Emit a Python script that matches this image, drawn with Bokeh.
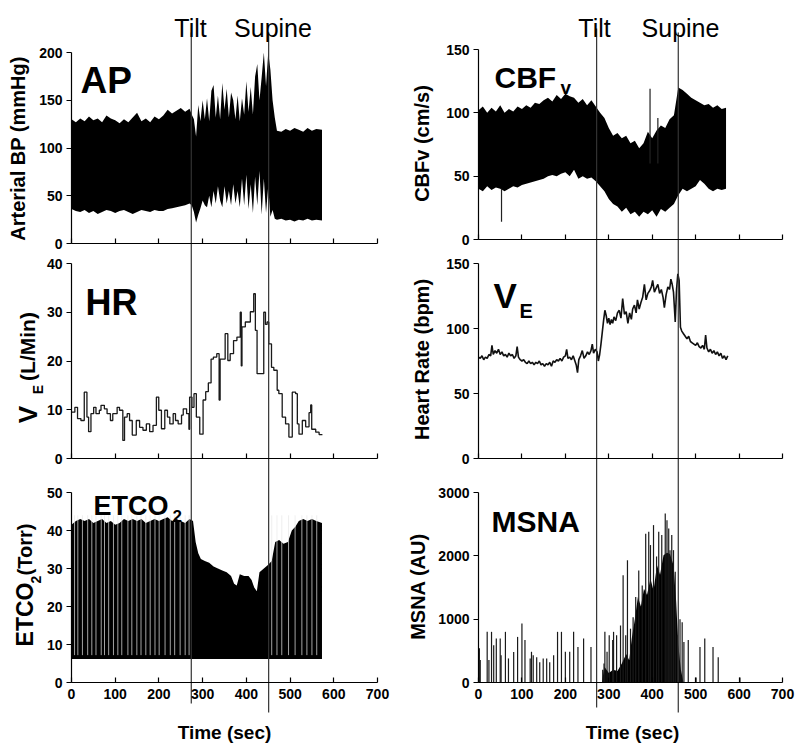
import numpy as np
from bokeh.plotting import figure
from bokeh.models import Range1d, LinearAxis, FixedTicker, Label
from bokeh.embed import file_html
from bokeh.resources import INLINE

# ---------------- data ----------------
X_TICKS = [0, 100, 200, 300, 400, 500, 600, 700]

# event times (s) as placed in each column
TILT_L, SUPINE_L = 274, 451
TILT_R, SUPINE_R = 272, 460

# Arterial blood pressure envelope (mmHg)
AP_T = [0, 10, 20, 30, 40, 50, 60, 70, 80, 90, 100, 110, 120, 130, 140, 150, 160, 170, 180, 190,
        200, 210, 220, 230, 240, 250, 260, 270,
        275, 280, 285, 290, 295, 300, 305, 310, 315, 320, 325, 330, 335, 340, 345, 350, 355, 360,
        365, 370, 375, 380, 385, 390, 395, 400, 405, 410, 415, 420, 425, 430, 435, 440, 445, 450,
        455, 460, 465, 470,
        480, 490, 500, 510, 520, 530, 540, 550, 560, 573]
AP_SYS = [130, 127, 131, 128, 133, 129, 131, 127, 134, 131, 129, 126, 130, 127, 132, 137, 128, 131, 127, 133,
          130, 134, 140, 136, 139, 142, 138, 141,
          135, 130, 112, 145, 128, 150, 130, 152, 128, 160, 166, 132, 155, 130, 168, 140, 162, 132,
          158, 150, 130, 155, 128, 152, 135, 170, 138, 164, 135, 175, 188, 150, 174, 200, 165, 200,
          182, 150, 132, 118,
          117, 120, 118, 121, 119, 117, 121, 118, 120, 119]
AP_DIA = [36, 34, 33, 35, 32, 34, 31, 33, 35, 34, 32, 34, 35, 33, 31, 33, 35, 34, 33, 35,
          34, 34, 36, 37, 38, 39, 40, 42,
          40, 33, 22, 30, 37, 45, 40, 38, 50, 38, 55, 42, 60, 45, 38, 60, 42, 55,
          40, 62, 42, 55, 38, 68, 40, 72, 36, 62, 32, 70, 40, 76, 30, 68, 32, 60,
          28, 35, 26, 25,
          26, 24, 25, 23, 25, 24, 26, 24, 25, 24]

# Cerebral blood flow velocity envelope (cm/s)
CBF_T = [0, 10, 20, 30, 40, 50, 60, 70, 80, 90,
         100, 110, 120, 130, 140, 150, 160, 170, 180, 190,
         200, 210, 220, 230, 240, 250, 260, 270, 280, 290,
         300, 310, 320, 330, 340, 350, 360, 370, 380, 390,
         400, 410, 420, 430, 440, 450, 460, 470, 480, 490,
         500, 510, 520, 530, 540, 550, 560, 570]
CBF_HI = [102, 105, 100, 104, 101, 106, 100, 103, 101, 105,
          103, 106, 104, 108, 107, 110, 112, 109, 114, 111,
          115, 113, 112, 108, 111, 106, 110, 105, 100, 96,
          88, 82, 84, 80, 82, 76, 78, 72, 76, 85,
          80, 86, 90, 88, 95, 98, 120, 118, 115, 112,
          110, 108, 106, 107, 104, 106, 103, 104]
CBF_LO = [40, 38, 42, 39, 41, 40, 38, 40, 42, 41,
          43, 44, 45, 46, 47, 48, 50, 51, 50, 52,
          53, 50, 55, 48, 50, 48, 49, 46, 42, 38,
          32, 28, 26, 22, 25, 20, 22, 18, 22, 20,
          23, 18, 24, 22, 25, 28, 35, 40, 38, 40,
          42, 47, 44, 40, 38, 40, 39, 40]
CBF_SPK_T = [53, 395, 413]
CBF_SPK_LO = [14, 60, 60]
CBF_SPK_HI = [40, 119, 96]

# Minute ventilation steps (L/min)
VE_T = [0, 7.7, 13.8, 21.5, 29.2, 35.3, 39.1, 44.5, 50.7, 56,
        63.7, 67.5, 75.2, 81.4, 89, 94.4, 104.4, 109.8, 117.4, 121.3,
        127.4, 132.8, 139, 148.2, 155.8, 163.5, 171.2, 178.8, 186.5, 194.2,
        199.6, 205.7, 213.4, 219.5, 224.9, 232.6, 237.9, 244, 251.7, 255.6,
        263.3, 268.6, 270.2, 275.6, 280.2, 285.6, 293.4, 301, 307, 313,
        319.3, 324.6, 332.3, 337.7, 340, 351.5, 357.6, 363, 370.7, 378.4,
        386, 388.4, 390, 397.6, 409.1, 416.8, 420.6, 424.5, 439.8, 443.7,
        447.5, 451.3, 457.5, 462.8, 470.5, 474.3, 482, 489.7, 497.3, 505,
        512.7, 516.6, 520.4, 528, 535.7, 543.4, 547.2, 549.5, 558.7, 566.4,
        574]
VE_V = [9.5, 10.5, 8.2, 7.8, 13.6, 8.5, 5.5, 9.2, 10.5, 9.2,
        9.9, 10.9, 10.2, 9.2, 7.8, 9.2, 10.5, 9.9, 3.7, 8.5,
        9.2, 7.8, 4.8, 7.8, 6.4, 5.8, 7.1, 5.5, 6.8, 12.6,
        9.9, 6.1, 9.9, 8.5, 7.1, 9.2, 7.8, 7.1, 8.9, 10.2,
        9.2, 6.0, 12.6, 10.5, 13.3, 8.5, 5.0, 12.0, 13.7, 15.5,
        20.4, 20.8, 21.5, 12.0, 20.4, 25.6, 20.1, 21.5, 24.2, 24.9,
        30.0, 19.0, 27.0, 28.0, 30.1, 33.8, 26.3, 17.4, 30.0, 27.5,
        28.0, 23.5, 18.7, 18.1, 14.0, 13.3, 8.5, 7.1, 4.4, 13.6,
        13.3, 7.1, 5.0, 7.8, 6.5, 9.4, 11.0, 6.0, 5.4, 4.9,
        4.9]

# Heart rate (bpm)
HR_T = [0, 4, 8, 12, 16, 20, 24, 28, 31, 34,
        38, 42, 46, 50, 54, 58, 62, 66, 70, 74,
        78, 82, 86, 89, 92, 96, 100, 104, 108, 112,
        116, 120, 124, 128, 132, 136, 140, 144, 148, 152,
        156, 160, 164, 168, 172, 176, 180, 184, 188, 192,
        196, 200, 203, 206, 210, 214, 218, 222, 225, 228,
        231, 235, 239, 243, 247, 251, 255, 259, 262, 265,
        269, 273, 276, 279, 282, 285, 288, 291, 294, 297,
        300, 303, 306, 309, 312, 316, 320, 324, 328, 332,
        336, 340, 344, 348, 352, 355, 359, 363, 366, 370,
        374, 378, 382, 386, 390, 394, 398, 401, 405, 409,
        413, 417, 421, 425, 428, 432, 436, 440, 443, 446,
        449, 453, 456, 459, 462, 465, 468, 472, 476, 480,
        484, 488, 492, 496, 500, 504, 508, 512, 516, 520,
        523, 526, 530, 534, 538, 542, 546, 550, 554, 558,
        562, 566, 570, 574]
HR_V = [78, 77, 79, 76, 78, 77, 80, 79, 87, 80,
        83, 81, 84, 80, 82, 79, 80, 78, 81, 79,
        80, 77, 79, 86, 78, 76, 75, 76, 74, 73,
        75, 73, 74, 72, 74, 73, 75, 72, 73, 71,
        73, 72, 74, 71, 75, 74, 76, 75, 77, 75,
        78, 79, 84, 77, 78, 76, 79, 75, 72, 66,
        76, 79, 83, 77, 79, 82, 80, 83, 88, 81,
        84, 82, 75, 80, 88, 97, 106, 114, 110, 104,
        108, 103, 107, 104, 109, 106, 112, 114, 108, 123,
        111, 113, 104, 112, 107, 115, 118, 112, 122, 115,
        120, 124, 134, 122, 127, 129, 132, 137, 128, 131,
        134, 127, 130, 124, 116, 126, 132, 130, 138, 134,
        128, 105, 130, 142, 137, 101, 98, 96, 94, 92,
        94, 90, 89, 88, 87, 89, 86, 85, 87, 84,
        95, 85, 82, 84, 81, 83, 80, 82, 79, 81,
        77, 79, 76, 79]

# End-tidal CO2 (Torr): breath peaks envelope, trough level, inspiration gaps
CO2_T = [0, 10, 20, 30, 40, 50, 60, 70, 80, 90, 100, 110, 120, 130, 140, 150, 160, 170, 180, 190,
         200, 210, 220, 230, 240, 250, 260, 270,
         278, 284, 290, 296, 305, 315, 325, 335, 345, 355, 365, 372, 378, 385, 395, 405, 412, 418,
         424, 430, 440, 450, 458, 466, 475, 485, 495, 504, 512, 520, 530, 540, 550, 560, 573]
CO2_TOP = [41.5, 42.5, 43, 42.5, 43, 42, 42.5, 43, 42, 42.5, 41.5, 42, 43, 42.5, 43, 42.5, 43, 42, 42.5, 43,
           42.5, 43, 43.5, 42.5, 43, 42.5, 42, 43,
           42.5, 37, 34, 32.5, 32, 31.5, 30.5, 30, 29.5, 29, 28, 26, 25.5, 28.5, 28, 28, 27, 25,
           24, 29, 30, 31, 32, 37, 37.5, 36.5, 37, 40, 41, 42.5, 43, 42.5, 43, 42.5, 42]
CO2_BASE = 6.2
CO2_GAP_T = [7, 14.5, 25, 37, 46.5, 56, 68, 75.5, 85, 96, 106, 115, 129, 138, 149.5, 159, 170, 180,
             191, 200.5, 214, 226, 236, 248.5, 260, 269,
             458, 470, 481, 496.5, 511.5, 527, 538.5, 550, 561]

# Muscle sympathetic nerve activity (AU): bursts and dense burst core
MSNA_T = [2, 4, 20, 24, 30, 35, 41, 50, 52, 62, 69, 81, 90, 100, 107, 119, 122, 126, 134, 141,
          149, 157, 164, 173, 182, 191, 200, 210, 219, 229, 242, 259, 286, 289, 291, 296, 301, 309,
          311, 318, 327, 333, 339, 343, 350, 356, 362, 369, 377, 385, 392, 396, 403, 410, 415, 422,
          430, 434, 438, 441, 445, 449, 453, 458, 464, 469, 473, 483, 501, 510, 521, 540, 552, 602]
MSNA_H = [540, 355, 800, 355, 800, 590, 695, 695, 430, 800, 380, 480, 720, 930, 670, 380, 485, 430, 400, 320,
          380, 380, 320, 430, 800, 800, 485, 485, 800, 560, 695, 560, 200, 300, 800, 485, 745, 670,
          800, 745, 900, 1695, 745, 1930, 850, 1030, 1350, 1770, 1530, 2350, 2380, 2170, 2485, 1990, 2380, 2330,
          2670, 2560, 2430, 2090, 2330, 2090, 1750, 745, 1000, 950, 640, 670, 80, 560, 695, 560, 400, 80]
MSNA_CORE_T = [284, 290, 300, 310, 320, 330, 340, 347, 353, 360, 367, 374, 381, 388, 396, 403, 411,
               418, 426, 434, 441, 449, 455, 460, 466, 472]
MSNA_CORE_Y = [0, 250, 150, 200, 180, 300, 450, 350, 700, 1000, 1350, 1200, 1480, 1380, 1640, 1450, 1850,
               1700, 2010, 2050, 2030, 1850, 1300, 600, 200, 0]

# ---------------- layout ----------------
W, H = 800, 749
OFF = 0
FONT = "Liberation Sans"


def x_range_for(v0, v1, img0, img1):
    p0, p1 = img0 - OFF, img1 - OFF
    s = (v1 - v0) / (p1 - p0)
    start = v0 - p0 * s
    return Range1d(start=start, end=start + W * s)


def y_range_for(v0, v1, img0, img1):
    p0, p1 = H - (img0 - OFF), H - (img1 - OFF)
    s = (v1 - v0) / (p1 - p0)
    start = v0 - p0 * s
    return Range1d(start=start, end=start + H * s)


p = figure(width=W, height=H, output_backend="svg", toolbar_location=None,
           x_range=x_range_for(0, 700, 71, 377), y_range=Range1d(start=H, end=0),
           x_axis_location=None, y_axis_location=None,
           min_border=0, min_border_left=0, min_border_right=0,
           min_border_top=0, min_border_bottom=0)
p.outline_line_color = None
p.xgrid.visible = False
p.ygrid.visible = False
p.background_fill_color = "white"
p.border_fill_color = "white"

p.extra_x_ranges = {"R": x_range_for(0, 700, 478, 782), "px": Range1d(start=0, end=W)}
p.extra_y_ranges = {
    "ap": y_range_for(0, 200, 243, 52),
    "ve": y_range_for(0, 40, 458, 263),
    "co2": y_range_for(0, 50, 682, 492),
    "cbf": y_range_for(0, 150, 239, 49),
    "hr": y_range_for(0, 150, 458, 263),
    "msna": y_range_for(0, 3000, 682, 492),
}

panels = [
    ("default", "ap", [0, 50, 100, 150, 200], False),
    ("default", "ve", [0, 10, 20, 30, 40], False),
    ("default", "co2", [0, 10, 20, 30, 40, 50], True),
    ("R", "cbf", [0, 50, 100, 150], False),
    ("R", "hr", [0, 50, 100, 150], False),
    ("R", "msna", [0, 1000, 2000, 3000], True),
]


def style(ax):
    ax.axis_line_color = "black"
    ax.axis_line_width = 1.2
    ax.major_tick_line_color = "black"
    ax.major_tick_line_width = 1.2
    ax.minor_tick_line_color = None
    ax.major_label_text_font = FONT
    ax.major_label_text_font_style = "bold"
    ax.major_label_text_font_size = "14px"
    ax.major_label_text_color = "black"


for xname, yname, yticks, xlabels in panels:
    yax = LinearAxis(x_range_name=xname, y_range_name=yname, fixed_location=0,
                     bounds=(0, yticks[-1]), ticker=FixedTicker(ticks=yticks))
    style(yax)
    yax.major_tick_out = 5
    yax.major_tick_in = 0
    yax.major_label_standoff = 4
    p.add_layout(yax, "left")

    xax = LinearAxis(x_range_name=xname, y_range_name=yname, fixed_location=0,
                     bounds=(0, 700), ticker=FixedTicker(ticks=X_TICKS))
    style(xax)
    xax.major_tick_out = 0
    xax.major_tick_in = 5
    xax.major_label_standoff = 6
    if not xlabels:
        xax.major_label_text_color = None
    p.add_layout(xax, "below")

# ---------------- signals ----------------
p.varea(x=AP_T, y1=AP_DIA, y2=AP_SYS, y_range_name="ap", fill_color="black")

p.varea(x=CBF_T, y1=CBF_LO, y2=CBF_HI, x_range_name="R", y_range_name="cbf", fill_color="black")
p.segment(x0=CBF_SPK_T, y0=CBF_SPK_LO, x1=CBF_SPK_T, y1=CBF_SPK_HI,
          x_range_name="R", y_range_name="cbf", line_color="#222", line_width=1.2)

p.step(x=VE_T, y=VE_V, mode="after", y_range_name="ve", line_color="#1a1a1a", line_width=1.3)

p.line(x=HR_T, y=HR_V, x_range_name="R", y_range_name="hr", line_color="#111", line_width=1.6)

p.varea(x=CO2_T, y1=CO2_BASE, y2=CO2_TOP, y_range_name="co2", fill_color="black")
p.segment(x0=CO2_GAP_T, y0=CO2_BASE + 1.0, x1=CO2_GAP_T, y1=44.0, y_range_name="co2",
          line_color="#e8e8e8", line_width=1.0, line_alpha=0.7)

p.varea(x=MSNA_CORE_T, y1=0, y2=MSNA_CORE_Y, x_range_name="R", y_range_name="msna", fill_color="black")
p.segment(x0=MSNA_T, y0=0, x1=MSNA_T, y1=MSNA_H, x_range_name="R", y_range_name="msna",
          line_color="#1a1a1a", line_width=1.2)

# ---------------- event lines ----------------
p.segment(x0=[TILT_L, SUPINE_L], x1=[TILT_L, SUPINE_L], y0=[32, 32], y1=[703, 712],
          line_color="#333", line_width=1.2)
p.segment(x0=[TILT_R, SUPINE_R], x1=[TILT_R, SUPINE_R], y0=[28, 32], y1=[707, 712],
          x_range_name="R", line_color="#333", line_width=1.2)


# ---------------- texts ----------------
def txt(x, y, text, size, bold=True, align="left", baseline="alphabetic", angle=0.0):
    p.add_layout(Label(x=x - OFF, y=y - OFF, x_range_name="px", text=text,
                       text_font=FONT, text_font_size=f"{size}px",
                       text_font_style="bold" if bold else "normal",
                       text_align=align, text_baseline=baseline, angle=angle,
                       text_color="black"))


for cx, t in [(190, "Tilt"), (272.5, "Supine"), (594, "Tilt"), (680, "Supine")]:
    txt(cx, 27, t, 25, bold=False, align="center")

txt(80, 80, "AP", 37)
txt(494, 77, "CBF", 30)
txt(560, 87, "v", 19)
txt(85, 302, "HR", 36)
txt(493, 295, "V", 35)
txt(519, 310, "E", 20)
txt(93, 505, "ETCO", 27)
txt(172, 515, "2", 17)
txt(491, 521, "MSNA", 30)

R90 = np.pi / 2
txt(17, 148, "Arterial BP (mmHg)", 20, align="center", baseline="middle", angle=R90)
txt(421, 143, "CBFv (cm/s)", 20, align="center", baseline="middle", angle=R90)
txt(421, 359, "Heart Rate (bpm)", 20, align="center", baseline="middle", angle=R90)
txt(417, 586, "MSNA (AU)", 20, align="center", baseline="middle", angle=R90)
txt(27, 414, "V", 26, align="center", baseline="middle", angle=R90)
txt(37, 389, "E", 14, align="center", baseline="middle", angle=R90)
txt(27, 346, "(L/Min)", 21, align="center", baseline="middle", angle=R90)
txt(24, 614, "ETCO", 23, align="center", baseline="middle", angle=R90)
txt(35, 579, "2", 14, align="center", baseline="middle", angle=R90)
txt(24, 549, "(Torr)", 20, align="center", baseline="middle", angle=R90)
txt(224, 732, "Time (sec)", 19, align="center", baseline="middle")
txt(632, 732, "Time (sec)", 19, align="center", baseline="middle")

open("out.html", "w").write(file_html(p, INLINE))
